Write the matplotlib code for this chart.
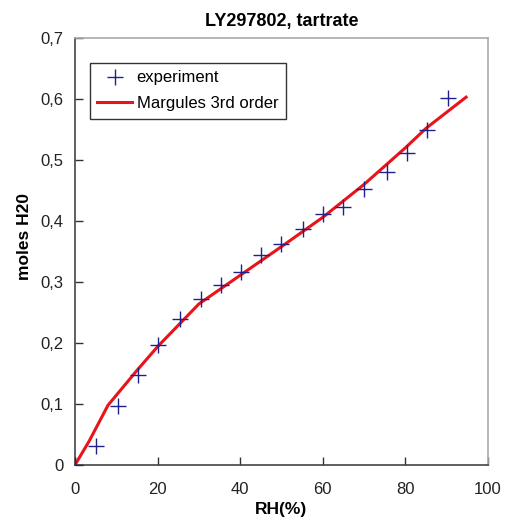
import matplotlib
matplotlib.use("Agg")
import matplotlib.pyplot as plt
from matplotlib.ticker import FuncFormatter

plt.rcParams['font.family'] = ['Liberation Sans', 'DejaVu Sans']

# experiment data
rh_exp = [0, 5, 10.3, 15.2, 20.1, 25.4, 30.6, 35.4, 40.3, 45.1, 50, 55.1, 60.1, 65, 70.1, 75.6, 80.4, 85.2, 90.4]
moles_exp = [0, 0.031, 0.097, 0.148, 0.197, 0.240, 0.272, 0.295, 0.317, 0.344, 0.363, 0.387, 0.411, 0.423, 0.452, 0.480, 0.512, 0.550, 0.602]

# Margules 3rd order fit
rh_fit = [0, 3.5, 8, 15, 20, 25, 30, 40, 50, 60, 70, 80, 85, 94.7]
moles_fit = [0, 0.040, 0.098, 0.155, 0.194, 0.229, 0.264, 0.311, 0.358, 0.406, 0.460, 0.520, 0.552, 0.603]

x_ticks = [0, 20, 40, 60, 80, 100]
y_ticks = [0, 0.1, 0.2, 0.3, 0.4, 0.5, 0.6, 0.7]

fig = plt.figure(figsize=(5.09, 5.22), dpi=100)
ax = fig.add_axes([0.1473, 0.1092, 0.8114, 0.818])

ax.plot(rh_exp, moles_exp, linestyle='none', marker='+', markersize=11,
        markeredgewidth=1.0, color='#1f1f8f', label='experiment', zorder=3)
ax.plot(rh_fit, moles_fit, color='#e8141a', linewidth=2.2,
        label='Margules 3rd order', zorder=2)

ax.set_xlim(0, 100)
ax.set_ylim(0, 0.7)
ax.set_xticks(x_ticks)
ax.set_yticks(y_ticks)

def comma_fmt(v, pos):
    if abs(v) < 1e-9:
        return '0'
    return ('%.1f' % v).replace('.', ',')

ax.yaxis.set_major_formatter(FuncFormatter(comma_fmt))
ax.xaxis.set_major_formatter(FuncFormatter(lambda v, p: '%d' % v))

ax.tick_params(direction='in', length=6, width=1, labelsize=12,
               top=False, right=False, colors='#333333', labelcolor='#222222')
ax.tick_params(axis='x', pad=12)
ax.tick_params(axis='y', pad=8)

for s in ['left', 'bottom']:
    ax.spines[s].set_color('#444444')
    ax.spines[s].set_linewidth(1.2)
for s in ['top', 'right']:
    ax.spines[s].set_color('#aaaaaa')
    ax.spines[s].set_linewidth(1.2)

ax.set_title('LY297802, tartrate', fontsize=13, fontweight='bold', pad=9)
ax.set_xlabel('RH(%)', fontsize=12.5, fontweight='bold', labelpad=4)
ax.set_ylabel('moles H20', fontsize=12.5, fontweight='bold')
ax.yaxis.set_label_coords(-0.105, 0.536)

leg = ax.legend(loc='upper left', bbox_to_anchor=(0.036, 0.9415), borderaxespad=0,
                fontsize=12, fancybox=False, framealpha=1, edgecolor='#333333',
                handlelength=2.1, handletextpad=0.25, labelspacing=0.65,
                borderpad=0.45)
leg.get_frame().set_linewidth(1.0)

fig.savefig('out.png', dpi=100)
